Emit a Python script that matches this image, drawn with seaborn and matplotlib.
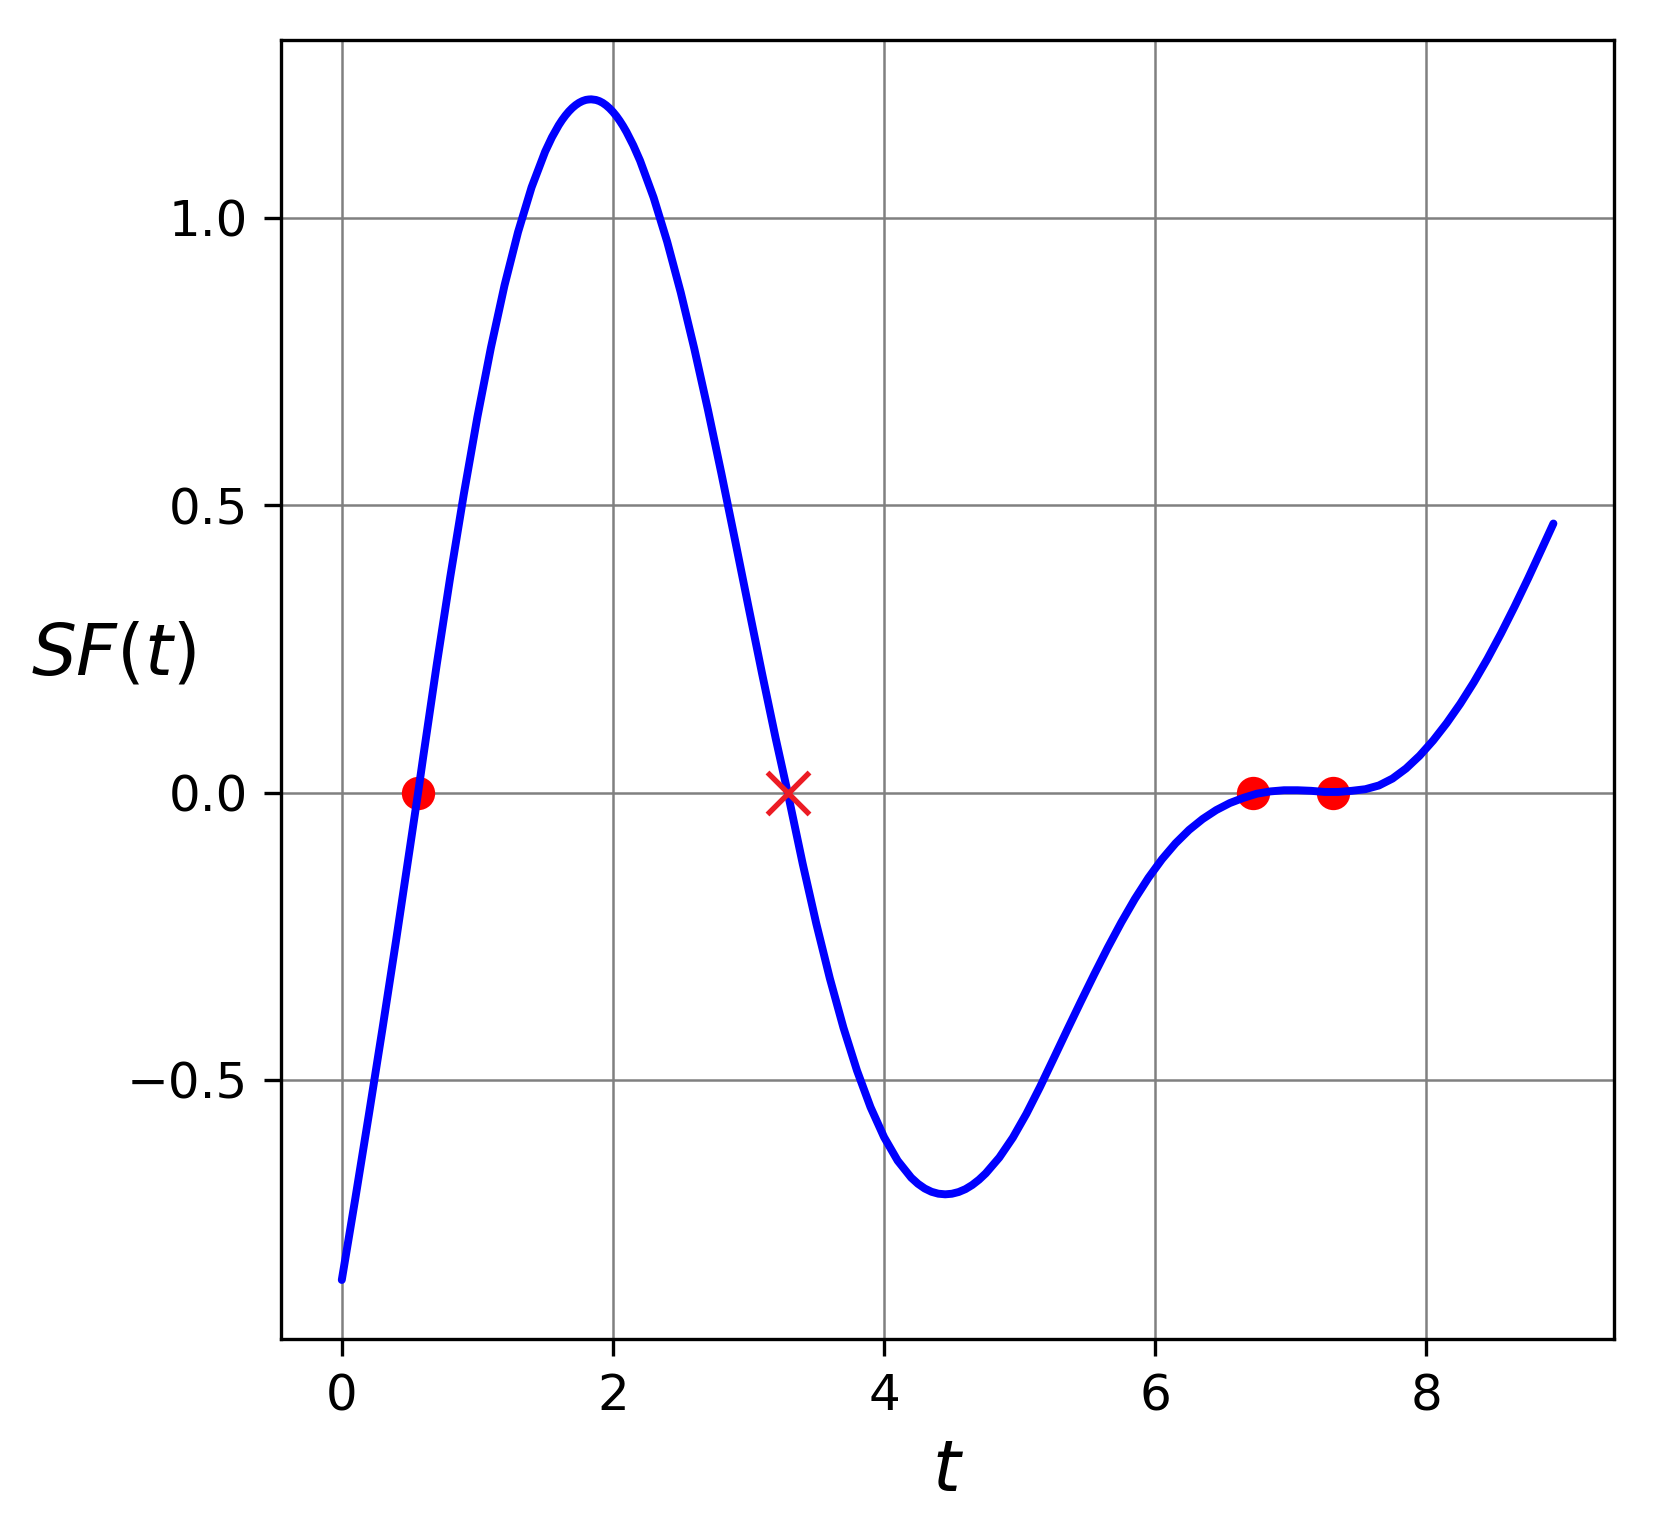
import matplotlib
matplotlib.use("Agg")
import matplotlib.pyplot as plt
import seaborn as sns
import pandas as pd

# ---- data ----
t_vals = [0.0, 0.1, 0.2, 0.3, 0.4, 0.5, 0.563, 0.6, 0.7, 0.8,
          0.9, 1.0, 1.1, 1.2, 1.3, 1.4, 1.5, 1.55, 1.6, 1.625,
          1.65, 1.675, 1.7, 1.725, 1.75, 1.775, 1.8, 1.82, 1.84, 1.875,
          1.9, 1.925, 1.95, 1.975, 2.0, 2.025, 2.05, 2.075, 2.1, 2.15,
          2.2, 2.3, 2.4, 2.5, 2.6, 2.7, 2.8, 2.9, 3.0, 3.1,
          3.2, 3.289, 3.4, 3.5, 3.6, 3.7, 3.8, 3.9, 4.0, 4.1,
          4.2, 4.25, 4.3, 4.35, 4.4, 4.451, 4.5, 4.55, 4.6, 4.65,
          4.7, 4.75, 4.85, 4.95, 5.05, 5.15, 5.25, 5.35, 5.45, 5.55,
          5.65, 5.75, 5.85, 5.95, 6.05, 6.15, 6.25, 6.35, 6.45, 6.55,
          6.65, 6.75, 6.85, 6.95, 7.05, 7.15, 7.25, 7.35, 7.45, 7.55,
          7.65, 7.75, 7.85, 7.95, 8.05, 8.15, 8.25, 8.35, 8.45, 8.55,
          8.65, 8.75, 8.85, 8.937]
sf_vals = [-0.848, -0.706, -0.560, -0.411, -0.258, -0.100, 0.000, 0.061, 0.222, 0.375,
           0.519, 0.653, 0.774, 0.882, 0.975, 1.053, 1.115, 1.140, 1.161, 1.170,
           1.178, 1.185, 1.191, 1.196, 1.200, 1.203, 1.205, 1.2057, 1.206, 1.2049,
           1.2029, 1.1998, 1.1956, 1.1904, 1.1842, 1.1770, 1.1687, 1.1595, 1.1493, 1.1261,
           1.0994, 1.0352, 0.9583, 0.8702, 0.7724, 0.6667, 0.5551, 0.4398, 0.3229, 0.2070,
           0.0947, 0.000, -0.1242, -0.2282, -0.3234, -0.4089, -0.4836, -0.5474, -0.5996, -0.6404,
           -0.6700, -0.6807, -0.6889, -0.6946, -0.6979, -0.699, -0.698, -0.695, -0.690, -0.6828,
           -0.6736, -0.6625, -0.635, -0.6003, -0.5588, -0.5123, -0.463, -0.4133, -0.3643, -0.3163,
           -0.2698, -0.2258, -0.185, -0.1483, -0.116, -0.0883, -0.065, -0.046, -0.0305, -0.0183,
           -0.0093, -0.002, 0.002, 0.004, 0.004, 0.003, 0.001, 0.001, 0.003, 0.0058,
           0.0123, 0.0243, 0.0418, 0.064, 0.0905, 0.1208, 0.1545, 0.1918, 0.2325, 0.2765,
           0.3233, 0.3723, 0.4233, 0.468]

dot_t = [0.563, 6.724, 7.314]
dot_y = [0.0, 0.0, 0.0]
cross_t = [3.289]
cross_y = [0.0]

x_label = r"$t$"
y_label = r"$SF(t)$"

# ---- styling ----
sns.set_style("white")
plt.rcParams["font.family"] = ["DejaVu Sans"]
plt.rcParams["mathtext.fontset"] = "dejavusans"

W, H, DPI = 1664, 1528, 300
fig = plt.figure(figsize=(W / DPI, H / DPI), dpi=DPI)
ax = fig.add_axes([281.2 / W, (H - 1339) / H, (1614 - 281.2) / W, (1339 - 40.3) / H])

curve = pd.DataFrame({"t": t_vals, "sf": sf_vals})
dots = pd.DataFrame({"t": dot_t, "sf": dot_y})
cross = pd.DataFrame({"t": cross_t, "sf": cross_y})

sns.scatterplot(data=dots, x="t", y="sf", ax=ax, color="red", s=8 ** 2,
                linewidth=0, zorder=2, legend=False)
sns.lineplot(data=curve, x="t", y="sf", ax=ax, color="blue", linewidth=1.9,
             sort=False, estimator=None, zorder=3, legend=False)
ax.plot(cross["t"], cross["sf"], linestyle="none", marker="x", markersize=10,
        markeredgewidth=1.3, color="#ec1c24", zorder=4)

ax.grid(True, color="gray", linewidth=0.6)
ax.set_axisbelow(True)
for sp in ax.spines.values():
    sp.set_color("black")
    sp.set_linewidth(0.8)
ax.tick_params(axis="both", which="major", direction="out", length=4, width=0.8,
               color="black", labelsize=12, pad=4, bottom=True, left=True,
               labelcolor="black")

ax.set_xticks([0, 2, 4, 6, 8])
ax.set_yticks([-0.5, 0.0, 0.5, 1.0])

ax.set_xlabel(x_label, fontsize=17, color="black")
ax.set_ylabel(y_label, fontsize=17, rotation=0, color="black")
ax.yaxis.set_label_coords(-0.126, 0.5)

fig.savefig("out.png", dpi=DPI)
